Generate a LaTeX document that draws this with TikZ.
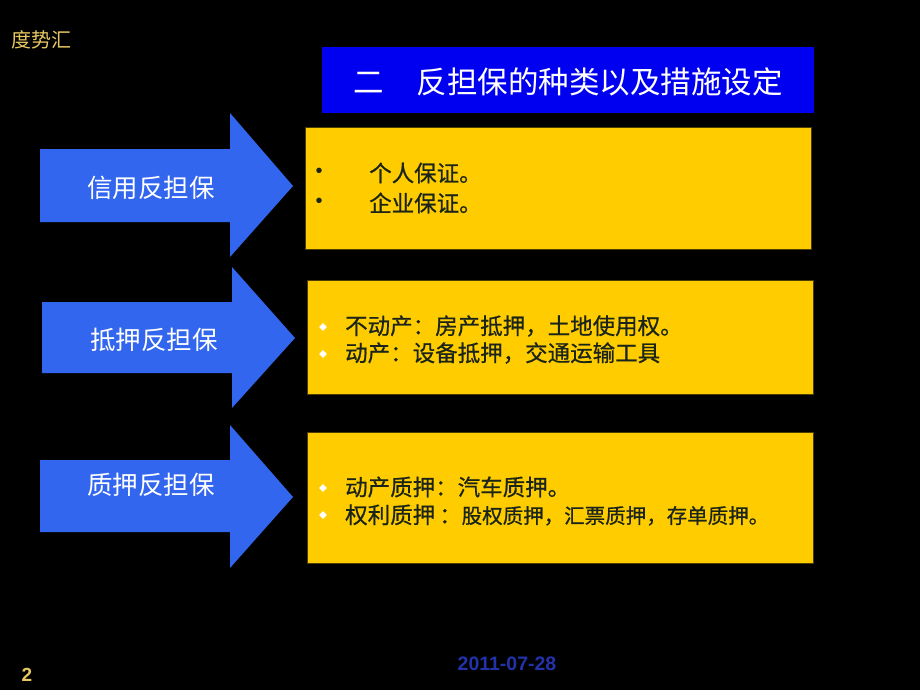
\documentclass[tikz,border=0pt]{standalone}
\usepackage{fontspec}
\setmainfont{Liberation Sans}
\newfontfamily\cjk{Noto Sans CJK SC}
\newfontfamily\cjkb[FakeBold=0.7]{Noto Sans CJK SC}
\definecolor{titleblue}{HTML}{0000F0}
\definecolor{arrowblue}{HTML}{3366EE}
\definecolor{boxyellow}{HTML}{FFCC00}
\definecolor{boxtext}{HTML}{1A2418}
\definecolor{logoyellow}{HTML}{E8C860}
\definecolor{dateblue}{HTML}{2233AA}
\usetikzlibrary{shapes.geometric}
\tikzset{
  bigarrow/.style={fill=arrowblue, draw=none},
  arrowtext/.style={text=white, font=\cjk\fontsize{25.5}{30}\selectfont, inner sep=0pt},
  ybox/.style={fill=boxyellow, draw=black!70!boxyellow, line width=0.6pt},
  btext/.style={text=boxtext, font=\cjkb\fontsize{22.5}{27}\selectfont, anchor=west, inner sep=0pt},
  dbullet/.style={fill=white, draw=none, diamond, minimum size=8pt, inner sep=0pt},
  cbullet/.style={text=boxtext, font=\fontsize{20}{22}\selectfont, inner sep=0pt},
}
\begin{document}
\begin{tikzpicture}[x=1pt,y=-1pt]
\fill[black] (0,0) rectangle (920,690);
\useasboundingbox (0,0) rectangle (920,690);

% logo and footer
\node[text=logoyellow, font=\cjk\fontsize{20}{24}\selectfont, anchor=west, inner sep=0pt] (logo) at (11,40) {度势汇};
\node[text=logoyellow, font=\bfseries\fontsize{19}{22}\selectfont, inner sep=0pt] (pagenum) at (27,675) {2};
\node[text=dateblue, font=\bfseries\fontsize{19.5}{22}\selectfont, inner sep=0pt] (date) at (507,664) {2011-07-28};

% title
\node[fill=titleblue, minimum width=492pt, minimum height=66pt, inner sep=0pt] (title) at (568,80) {};
\node[text=white, font=\cjk\fontsize{30.5}{35}\selectfont, anchor=west, inner sep=0pt] (titletext) at (353,82) {二\hspace{33pt}反担保的种类以及措施设定};

% arrows
\fill[bigarrow] (40,149) -- (230,149) -- (230,113) -- (293,186) -- (230,257) -- (230,222) -- (40,222) -- cycle;
\fill[bigarrow] (42,302) -- (232,302) -- (232,267) -- (295,338) -- (232,408) -- (232,373) -- (42,373) -- cycle;
\fill[bigarrow] (40,460) -- (230,460) -- (230,425) -- (293,497) -- (230,568) -- (230,532) -- (40,532) -- cycle;
\node[arrowtext] (a1) at (151,188) {信用反担保};
\node[arrowtext] (a2) at (154,340) {抵押反担保};
\node[arrowtext] (a3) at (151,485) {质押反担保};

% boxes
\draw[ybox] (305,127) rectangle (811,249);
\draw[ybox] (307,280) rectangle (813,394);
\draw[ybox] (307,432) rectangle (813,563);

% box 1 text
\node[cbullet] (d1) at (319,173) {•};
\node[cbullet] (d2) at (319,203) {•};
\node[btext] (t11) at (369,173) {个人保证。};
\node[btext] (t12) at (369,203) {企业保证。};

% box 2 text
\node[dbullet] (e1) at (323,327) {};
\node[dbullet] (e2) at (323,354) {};
\node[btext] (t21) at (345,326) {不动产：房产抵押，土地使用权。};
\node[btext] (t22) at (345,353) {动产：设备抵押，交通运输工具};

% box 3 text
\node[dbullet] (f1) at (323,488) {};
\node[dbullet] (f2) at (323,515) {};
\node[btext] (t31) at (345,487) {动产质押：汽车质押。};
\node[btext] (t32) at (345,515) {权利质押\hspace{4pt}：{\fontsize{20.5}{25}\selectfont 股权质押，汇票质押，存单质押。}};
\end{tikzpicture}
\end{document}
